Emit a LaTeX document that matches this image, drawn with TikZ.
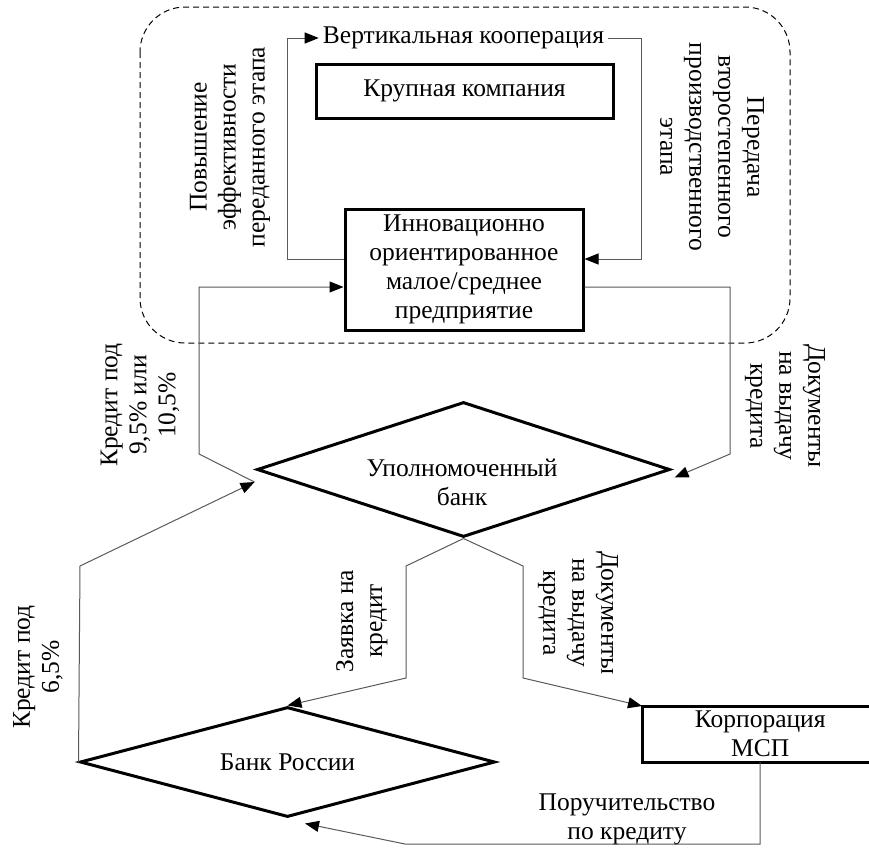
\documentclass[tikz,border=0pt]{standalone}
\usepackage{fontspec}
\setmainfont{Liberation Serif}
\newfontfamily\lserif{Liberation Serif}
\usetikzlibrary{arrows.meta,shapes.geometric,calc}
\begin{document}
\begin{tikzpicture}[x=1pt,y=-1pt,
  every node/.style={font=\lserif\fontsize{25.5}{29}\selectfont, align=center},
  box/.style={draw, line width=3pt, inner sep=0pt},
  dia/.style={draw, diamond, line width=3pt, inner sep=0pt},
  conn/.style={draw=black!65, line width=1pt},
  arr/.style={conn, -{Triangle[length=14pt,width=11pt,color=black]}},
  lbl/.style={inner sep=0pt},
]
\useasboundingbox (0,0) rectangle (869,847);
\clip (0,0) rectangle (869,847);
\draw[dash pattern=on 6pt off 4pt, line width=1pt, rounded corners=45pt] (140,7) rectangle (790,343);

\node[box, minimum width=297pt, minimum height=54pt] (kk) at (464.5,91) {Крупная компания};
\node[box, minimum width=238pt, minimum height=121pt] (sme) at (464,269.5) {Инновационно\\ориентированное\\малое/среднее\\предприятие};
\node[inner sep=4pt] (vk) at (463.5,38) {Вертикальная кооперация};

\node[dia, aspect=3.06, minimum width=413pt, minimum height=135pt] (ub) at (463.5,469.5) {};
\node[lbl] (ubt) at (462,482) {Уполномоченный\\банк};
\node[dia, aspect=3.77, minimum width=415pt, minimum height=110pt] (br) at (287.5,762) {Банк России};
\node[inner sep=0pt, minimum width=236pt, minimum height=56pt, anchor=north west] (kmsp) at (642,706) {Корпорация\\МСП};
\draw[line width=3pt] (kmsp.north west) rectangle ($(kmsp.south east)+(40,0)$);

\node[lbl, rotate=90] (l1) at (230,147) {Повышение\\эффективности\\переданного этапа};
\node[lbl, rotate=-90] (l2) at (712,147) {Передача\\второстепенного\\производственного\\этапа};
\node[lbl, rotate=90] (l3) at (140,405) {Кредит под\\9,5\% или\\10,5\%};
\node[lbl, rotate=-90] (l4) at (785,406) {Документы\\на выдачу\\кредита};
\node[lbl, rotate=90] (l5) at (38,667) {Кредит под\\6,5\%};
\node[lbl, rotate=90] (l6) at (362,621) {Заявка на\\кредит};
\node[lbl, rotate=-90] (l7) at (578,613) {Документы\\на выдачу\\кредита};
\node[lbl] (l8) at (627,819) {Поручительство\\по кредиту};

\draw[arr] ($(sme.west)+(0,-10.5)$) -- (287,259) -- (287,38) -- (vk.west);
\draw[arr] (vk.east) -- (641,38) -- (641,259) -- ($(sme.east)+(0,-10.5)$);
\draw[arr] ($(sme.east)+(0,17.5)$) -- (730,287) -- (730,454) -- ($(ub.east)+(3,8)$);
\draw[arr] ($(ub.west)+(-1,12.5)$) -- (199,454) -- (199,287) -- ($(sme.west)+(0,17.5)$);
\draw[arr] (br.west) -- (80,566) -- ($(ub.west)+(-1,12.5)$);
\draw[arr] (ub.south) -- (406,566) -- (406,678) -- (br.north);
\draw[arr] (ub.south) -- (523,566) -- (523,678) -- (kmsp.north west);
\draw[arr] (kmsp.south) -- (760,844) -- (405,844) -- ($(br.south)+(17.5,5)$);
\end{tikzpicture}
\end{document}
